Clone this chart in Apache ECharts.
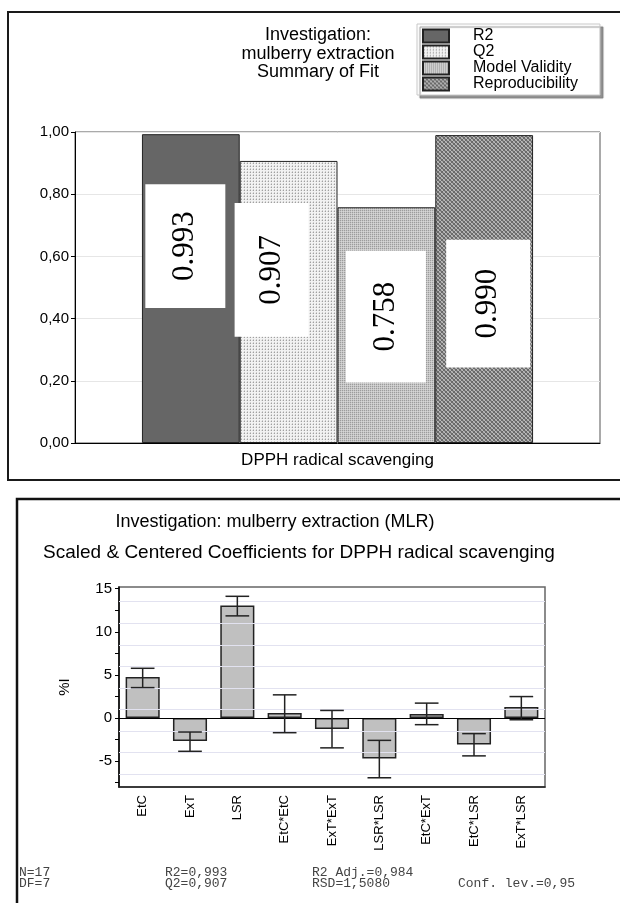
<!DOCTYPE html>
<html>
<head>
<meta charset="utf-8">
<script src="https://cdn.jsdelivr.net/npm/echarts@6/dist/echarts.min.js"></script>
<style>
html,body{margin:0;padding:0;background:#fff;}
#chart{width:620px;height:903px;}
</style>
</head>
<body>
<div id="chart"></div>
<script>
// ---------- data: summary of fit ----------
const summaryCategory = ['DPPH radical scavenging'];
const summaryNames = ['R2', 'Q2', 'Model Validity', 'Reproducibility'];
const summaryValues = [0.993, 0.907, 0.758, 0.990];
const summaryLabels = ['0.993', '0.907', '0.758', '0.990'];
const summaryTitle = ['Investigation:', 'mulberry extraction', 'Summary of Fit'];

// ---------- data: coefficients ----------
const coefNames = ['EtC', 'ExT', 'LSR', 'EtC*EtC', 'ExT*ExT', 'LSR*LSR', 'EtC*ExT', 'EtC*LSR', 'ExT*LSR'];
const coefValues = [4.75, -2.65, 13.05, 0.58, -1.27, -4.70, 0.46, -3.08, 1.27];
const coefLow = [3.53, -3.86, 11.85, -1.70, -3.46, -6.93, -0.77, -4.39, -0.20];
const coefHigh = [5.77, -1.62, 14.12, 2.69, 0.88, -2.59, 1.73, -1.81, 2.49];
const coefTickValues = [-7.5, -5, -2.5, 0, 2.5, 5, 7.5, 10, 12.5, 15];
const coefLabelValues = [-5, 0, 5, 10, 15];
const coefGridValues = [13.5, 11, 8.5, 6, 3.5, 1, -1.5, -4, -6.5];
const coefTitle1 = 'Investigation: mulberry extraction (MLR)';
const coefTitle2 = 'Scaled & Centered Coefficients for DPPH radical scavenging';
const statsCol1 = ['N=17', 'DF=7'];
const statsCol2 = ['R2=0,993', 'Q2=0,907'];
const statsCol3 = ['R2 Adj.=0,984', 'RSD=1,5080'];
const statsCol4 = ['', 'Conf. lev.=0,95'];

// ---------- fill patterns ----------
function pattern(size, bg, pixels) {
  const c = document.createElement('canvas');
  c.width = size; c.height = size;
  const g = c.getContext('2d');
  g.fillStyle = bg; g.fillRect(0, 0, size, size);
  pixels.forEach(p => { g.fillStyle = p[2]; g.fillRect(p[0], p[1], 1, 1); });
  return { image: c, repeat: 'repeat' };
}
const fills = [
  '#666666',
  pattern(3, '#f2f2f2', [[1, 1, '#a0a0a0'], [1, 0, '#cccccc'], [0, 1, '#dddddd']]),
  pattern(2, '#c6c6c6', [[0, 0, '#9c9c9c'], [1, 1, '#d6d6d6']]),
  pattern(4, '#6a6a6a', [[0, 0, '#bdbdbd'], [1, 1, '#bdbdbd'], [2, 2, '#bdbdbd'], [3, 3, '#bdbdbd'], [3, 0, '#a0a0a0'], [2, 1, '#a0a0a0'], [1, 2, '#a0a0a0'], [0, 3, '#a0a0a0']])
];
// label box styling per bar (padding in text-local coords) and offsets (text-local: [along text, across text])
const labelPads = [[24, 27], [21, 32], [24, 31], [26, 29]];
const labelOffsets = [[42.5, -5.5], [32, -17], [8.5, -0.5], [-14.5, 4]];

const SANS = 'Liberation Sans, Arial, sans-serif';
const MONO = '13px Liberation Mono, Courier New, monospace';

const summarySeries = summaryNames.map((name, i) => ({
  name: name,
  type: 'bar',
  xAxisIndex: 0, yAxisIndex: 0,
  barGap: '0%',
  barCategoryGap: '25.5%',
  data: [summaryValues[i]],
  itemStyle: { color: fills[i], borderColor: '#222', borderWidth: 1 },
  label: {
    show: true,
    position: 'inside',
    rotate: 90,
    formatter: () => summaryLabels[i],
    fontFamily: 'Liberation Serif, Times New Roman, serif',
    fontSize: 31,
    lineHeight: 32,
    color: '#000',
    backgroundColor: '#fff',
    padding: labelPads[i],
    offset: labelOffsets[i]
  },
  emphasis: { disabled: true },
  silent: true,
  z: 2
}));

const option = {
  animation: false,
  backgroundColor: '#fff',
  graphic: [
    { type: 'rect', shape: { x: 8, y: 12, width: 640, height: 468 }, style: { fill: null, stroke: '#1a1a1a', lineWidth: 2 }, z: 10 },
    { type: 'rect', shape: { x: 17, y: 499, width: 640, height: 440 }, style: { fill: null, stroke: '#111', lineWidth: 2.5 }, z: 10 },
    { type: 'text', x: 318, y: 26, style: { text: summaryTitle.join('\n'), textAlign: 'center', font: '18px ' + SANS, lineHeight: 18.5, fill: '#000' } },
    { type: 'text', x: 275, y: 522, style: { text: coefTitle1, textAlign: 'center', textVerticalAlign: 'middle', font: '18px ' + SANS, fill: '#000' } },
    { type: 'text', x: 299, y: 553, style: { text: coefTitle2, textAlign: 'center', textVerticalAlign: 'middle', font: '19px ' + SANS, fill: '#000' } },
    { type: 'text', x: 19, y: 867, style: { text: statsCol1.join('\n'), font: MONO, lineHeight: 11, fill: '#444' } },
    { type: 'text', x: 165, y: 867, style: { text: statsCol2.join('\n'), font: MONO, lineHeight: 11, fill: '#444' } },
    { type: 'text', x: 312, y: 867, style: { text: statsCol3.join('\n'), font: MONO, lineHeight: 11, fill: '#444' } },
    { type: 'text', x: 458, y: 867, style: { text: statsCol4.join('\n'), font: MONO, lineHeight: 11, fill: '#444' } }
  ],
  legend: {
    data: summaryNames,
    orient: 'vertical',
    left: 417,
    top: 24,
    padding: [4, 8, 3, 5],
    itemWidth: 26,
    itemHeight: 13,
    itemGap: 0,
    icon: 'rect',
    backgroundColor: '#fff',
    borderColor: '#c8c8c8',
    borderWidth: 1,
    shadowColor: 'rgba(120,120,120,0.8)',
    shadowBlur: 1,
    shadowOffsetX: 3,
    shadowOffsetY: 3,
    textStyle: { fontFamily: SANS, fontSize: 16, lineHeight: 13, color: '#000', padding: [0, 14, 0, 19] },
    selectedMode: false
  },
  grid: [
    { left: 75, right: 20, top: 132, bottom: 460, show: true, borderColor: '#555', borderWidth: 1, backgroundColor: 'transparent' },
    { left: 119, right: 75, top: 587, bottom: 116, show: true, borderColor: '#666', borderWidth: 1.5, backgroundColor: 'transparent' }
  ],
  xAxis: [
    {
      gridIndex: 0, type: 'category', data: summaryCategory,
      axisLine: { lineStyle: { color: '#000', width: 1 } },
      axisTick: { alignWithLabel: true, length: 5, lineStyle: { color: '#000' } },
      axisLabel: { fontFamily: SANS, fontSize: 17, color: '#000', margin: 9 }
    },
    {
      gridIndex: 1, type: 'category', data: coefNames,
      axisLine: { onZero: false, lineStyle: { color: '#222', width: 1.5 } },
      axisTick: { show: false },
      axisLabel: { rotate: 90, fontFamily: SANS, fontSize: 13, color: '#000', margin: 8 }
    }
  ],
  yAxis: [
    {
      gridIndex: 0, type: 'value', min: 0, max: 1, interval: 0.2,
      axisLine: { show: true, lineStyle: { color: '#000', width: 1 } },
      axisTick: { show: true, length: 4, lineStyle: { color: '#000' } },
      axisLabel: { fontFamily: SANS, fontSize: 15, color: '#000', margin: 6, formatter: v => v.toFixed(2).replace('.', ',') },
      splitLine: { show: true, lineStyle: { color: '#e6e6e6', width: 1 } }
    },
    {
      gridIndex: 1, type: 'value', min: -8, max: 15.2,
      name: '%I', nameLocation: 'middle', nameGap: 47,
      nameTextStyle: { fontFamily: SANS, fontSize: 15, color: '#000' },
      axisLine: { show: true, lineStyle: { color: '#000', width: 1.5 } },
      axisTick: { show: true, length: 4, customValues: coefTickValues, lineStyle: { color: '#000' } },
      axisLabel: { fontFamily: SANS, fontSize: 15, color: '#000', margin: 7, customValues: coefLabelValues },
      splitLine: { show: false }
    }
  ],
  series: summarySeries.concat([
    {
      name: 'grid lines',
      type: 'line',
      xAxisIndex: 1, yAxisIndex: 1,
      data: [],
      silent: true,
      markLine: {
        silent: true, symbol: 'none', label: { show: false },
        lineStyle: { color: '#e2e2f0', width: 1, type: 'solid' },
        data: coefGridValues.map(v => ({ yAxis: v }))
      },
      z: 0
    },
    {
      name: 'coefficients',
      type: 'bar',
      xAxisIndex: 1, yAxisIndex: 1,
      barCategoryGap: '28%',
      data: coefValues,
      itemStyle: { color: '#c0c0c0', borderColor: '#222', borderWidth: 1.5 },
      silent: true,
      markLine: {
        silent: true, symbol: 'none', label: { show: false },
        lineStyle: { color: '#000', width: 1.2, type: 'solid' },
        data: [{ yAxis: 0 }]
      },
      z: 2
    },
    {
      name: 'confidence',
      type: 'custom',
      xAxisIndex: 1, yAxisIndex: 1,
      data: coefNames.map((n, i) => [i, coefLow[i], coefHigh[i]]),
      silent: true,
      z: 5,
      renderItem: function (params, api) {
        const idx = api.value(0);
        const lo = api.coord([idx, api.value(1)]);
        const hi = api.coord([idx, api.value(2)]);
        const half = api.size([1, 0])[0] * 0.25;
        const st = { stroke: '#222', lineWidth: 1.5 };
        return {
          type: 'group',
          children: [
            { type: 'line', shape: { x1: lo[0], y1: lo[1], x2: hi[0], y2: hi[1] }, style: st },
            { type: 'line', shape: { x1: lo[0] - half, y1: lo[1], x2: lo[0] + half, y2: lo[1] }, style: st },
            { type: 'line', shape: { x1: hi[0] - half, y1: hi[1], x2: hi[0] + half, y2: hi[1] }, style: st }
          ]
        };
      }
    }
  ])
};

const chart = echarts.init(document.getElementById('chart'), null, { renderer: 'canvas' });
chart.setOption(option);
</script>
</body>
</html>
